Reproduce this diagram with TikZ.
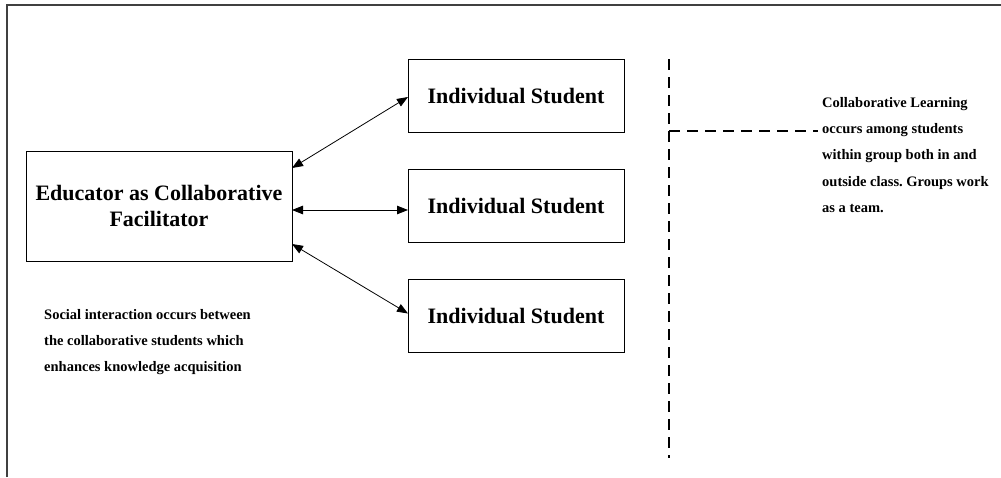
\documentclass[tikz,border=0pt]{standalone}
\usepackage{fontspec}
\setmainfont{Liberation Serif}
\usetikzlibrary{arrows.meta,calc}
\begin{document}
\frenchspacing
\begin{tikzpicture}[x=1pt,y=-1pt,
  box/.style={draw,line width=1pt,rectangle,inner sep=0pt,outer sep=0pt,
    font=\bfseries\fontsize{22}{26}\selectfont,align=center},
  link/.style={line width=0.8pt,{Triangle[length=11pt,width=8.5pt]}-{Triangle[length=11pt,width=8.5pt]}},
  dashline/.style={line width=1.4pt,dash pattern=on 11pt off 7pt},
  note/.style={font=\bfseries\fontsize{14.5}{26.3}\selectfont,align=left,inner sep=0pt,anchor=north west}]
\useasboundingbox (0,0) rectangle (1001,477);
\draw[line width=1.3pt,draw=black!75] (7,477) -- (7,5) -- (1001,5);

\node[box,minimum width=266pt,minimum height=110pt] (edu) at (159,206) {Educator as Collaborative\\Facilitator};
\node[box,minimum width=216pt,minimum height=73pt] (s1) at (516,95.5) {Individual Student};
\node[box,minimum width=216pt,minimum height=73pt] (s2) at (516,206) {Individual Student};
\node[box,minimum width=216pt,minimum height=73pt] (s3) at (516,315.5) {Individual Student};

\draw[link] ($(edu.east)+(0,-38)$) -- ($(s1.west)+(0,1.5)$);
\draw[link] ($(edu.east)+(0,4)$) -- ($(s2.west)+(0,4)$);
\draw[link] ($(edu.east)+(0,38)$) -- ($(s3.west)+(0,-2)$);

\coordinate (vtop) at (669,59);
\coordinate (vbot) at (669,458);
\coordinate (tee) at (669,131);
\coordinate (tend) at (818,131);
\draw[dashline] (vtop) -- (vbot);
\draw[dashline] (tee) -- (tend);

\node[note] (right) at (822,97) {Collaborative Learning\\occurs among students\\within group both in and\\outside class. Groups work\\as a team.};
\node[note] (left) at (44,309) {Social interaction occurs between\\the collaborative students which\\enhances knowledge acquisition};
\end{tikzpicture}
\end{document}
